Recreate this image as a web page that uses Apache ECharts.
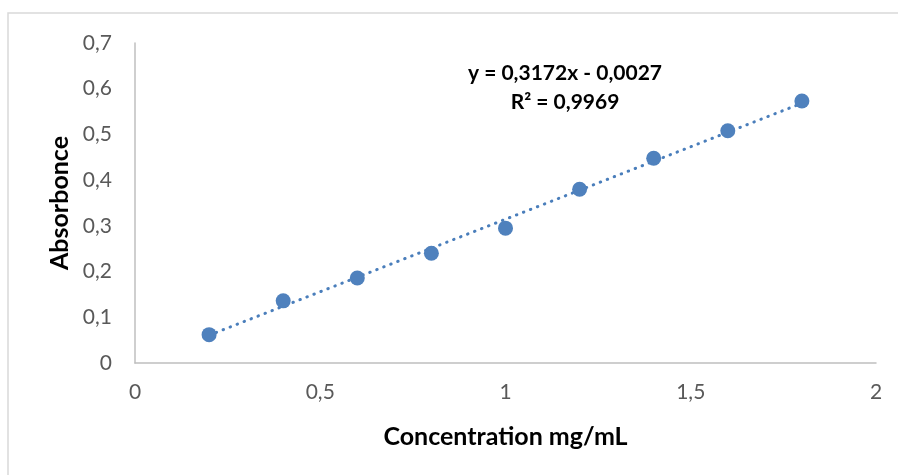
<!DOCTYPE html>
<html lang="en">
<head>
<meta charset="utf-8">
<script src="https://cdn.jsdelivr.net/npm/echarts@6/dist/echarts.min.js"></script>
<style>
  html, body { margin: 0; padding: 0; background: #fff; }
  #chartMain { width: 898px; height: 475px; }
</style>
</head>
<body>
<div id="chartMain"></div>
<script>
    // measured points
    var concentration = [0.2, 0.4, 0.6, 0.8, 1.0, 1.2, 1.4, 1.6, 1.8];
    var absorbance = [0.062, 0.136, 0.186, 0.240, 0.295, 0.380, 0.448, 0.508, 0.573];
    // linear trendline y = a*x + b, as printed on the chart
    var trendCoef = [0.3172, -0.0027];
    var trendX = [0.2, 1.8];
    var equationText = ['y = 0,3172x - 0,0027', 'R² = 0,9969'];

    var points = concentration.map(function (x, i) { return [x, absorbance[i]]; });
    var trend = trendX.map(function (x) { return [x, trendCoef[0] * x + trendCoef[1]]; });

    function comma(v) { return String(v).replace('.', ','); }

    var myChart = echarts.init(document.getElementById('chartMain'));
    var fontName = 'Lato';

    myChart.setOption({
        animation: false,
        textStyle: { fontFamily: fontName },
        grid: { left: 135, right: 22, top: 43, bottom: 112 },
        xAxis: {
            type: 'value',
            min: 0, max: 2, interval: 0.5,
            name: 'Concentration mg/mL',
            nameLocation: 'middle',
            nameGap: 61,
            nameTextStyle: { fontSize: 25, fontWeight: 'bold', color: '#000', fontFamily: fontName },
            axisLine: { show: true, lineStyle: { color: '#bfbfbf', width: 1.5 } },
            axisTick: { show: false },
            splitLine: { show: false },
            axisLabel: { fontSize: 21, color: '#595959', margin: 19, formatter: comma, fontFamily: fontName }
        },
        yAxis: {
            type: 'value',
            min: 0, max: 0.7, interval: 0.1,
            name: 'Absorbonce',
            nameLocation: 'middle',
            nameGap: 62,
            nameRotate: 90,
            nameTextStyle: { fontSize: 25, fontWeight: 'bold', color: '#000', fontFamily: fontName },
            axisLine: { show: true, lineStyle: { color: '#bfbfbf', width: 1.5 } },
            axisTick: { show: false },
            splitLine: { show: false },
            axisLabel: { fontSize: 21, color: '#595959', margin: 23, formatter: function (v) { return comma(+v.toFixed(1)); }, fontFamily: fontName }
        },
        graphic: [
            {
                type: 'polyline',
                shape: { points: [[8, 480], [8, 13], [900, 13]] },
                style: { stroke: '#d9d9d9', lineWidth: 1.5, fill: null },
                silent: true
            },
            {
                type: 'text',
                x: 565, y: 73,
                style: { text: equationText[0], font: 'bold 21px ' + fontName, fill: '#000', textAlign: 'center', textVerticalAlign: 'middle' }
            },
            {
                type: 'text',
                x: 565, y: 102,
                style: { text: equationText[1], font: 'bold 21px ' + fontName, fill: '#000', textAlign: 'center', textVerticalAlign: 'middle' }
            }
        ],
        series: [
            {
                type: 'line',
                data: trend,
                symbol: 'none',
                lineStyle: { color: '#4a7ebb', width: 3, type: [0.5, 7], cap: 'round' },
                z: 2
            },
            {
                type: 'scatter',
                data: points,
                symbol: 'circle',
                symbolSize: 15,
                itemStyle: { color: '#4f81bd', opacity: 1 },
                z: 3
            }
        ]
    });
</script>
</body>
</html>
